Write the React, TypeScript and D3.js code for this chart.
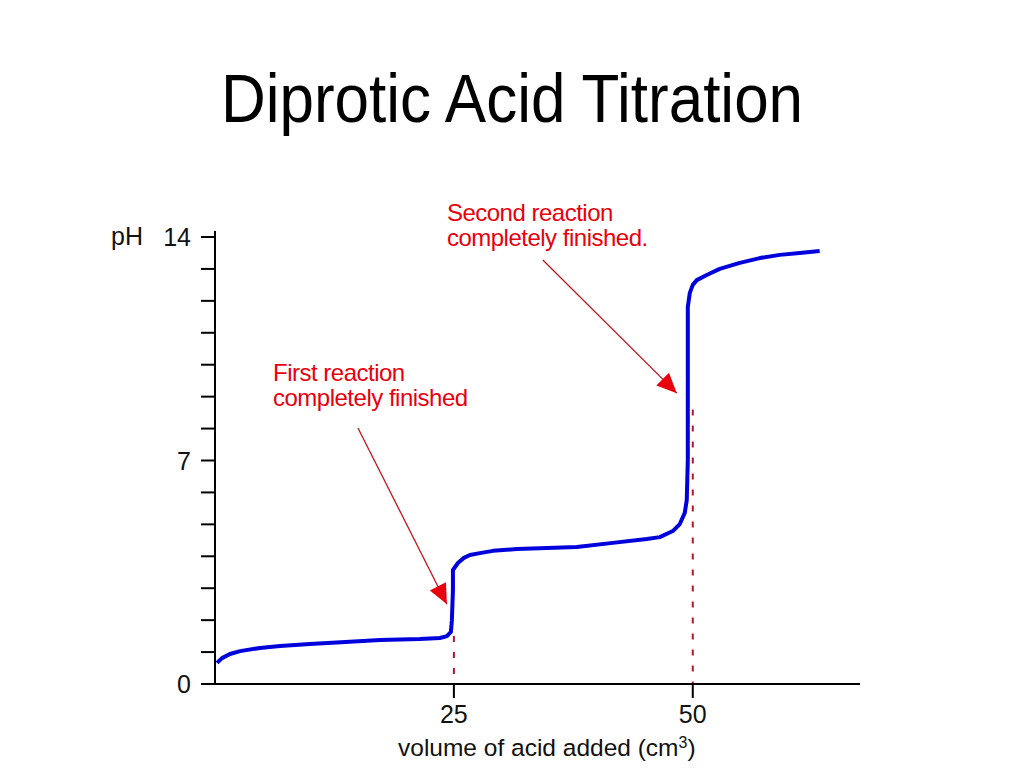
import React from "react";
import * as d3 from "d3";

const volumes = [0.21, 0.73, 1.57, 2.62, 4.71, 6.8, 9.94, 14.12, 17.26, 21.44, 23.54, 24.27, 24.69, 24.79, 24.9, 24.9, 25.42, 26.05, 26.67, 27.72, 29.08, 31.59, 37.87, 41.63, 45.19, 46.55, 47.91, 48.64, 49.16, 49.37, 49.48, 49.48, 49.48, 49.48, 49.69, 50.0, 50.42, 51.46, 52.82, 54.92, 57.01, 59.1, 61.19, 63.28];
const phValues = [0.66, 0.81, 0.94, 1.03, 1.13, 1.19, 1.25, 1.32, 1.38, 1.41, 1.44, 1.5, 1.63, 2.0, 2.94, 3.57, 3.79, 3.95, 4.04, 4.1, 4.17, 4.23, 4.29, 4.42, 4.54, 4.6, 4.79, 5.01, 5.36, 5.76, 7.02, 8.89, 10.77, 11.81, 12.25, 12.5, 12.65, 12.81, 13.0, 13.19, 13.34, 13.44, 13.5, 13.56];

const yTicks = d3.range(0, 15);
const yTickLabels = ["0", "7", "14"];
const xTickValues = [25, 50];
const equivalencePoints = [25, 50];
const equivalenceTops = [1.5, 8.6];

const annotationLines = [
  ["First reaction", "completely finished"],
  ["Second reaction", "completely finished."],
];
const annotationTextPos = [
  [6.07, 9.5],
  [24.27, 14.5],
];
const arrowStart = [
  [14.96, 8.02],
  [34.31, 13.28],
];
const arrowTip = [
  [24.27, 2.5],
  [48.33, 9.11],
];

const title = "Diprotic Acid Titration";
const xTitle = "volume of acid added (cm";
const yTitle = "pH";

export default function App() {
  const x = d3.scaleLinear().domain([0, 67.5]).range([215, 860]);
  const y = d3.scaleLinear().domain([0, 14]).range([684, 237]);
  const pts: [number, number][] = volumes.map((v, i) => [v, phValues[i]]);
  const line = d3
    .line<[number, number]>()
    .x((d) => x(d[0]))
    .y((d) => y(d[1]))
    .curve(d3.curveLinear);

  const red = "#e8000c";
  const arrowRed = "#c2141c";
  const font = "'Liberation Sans', Arial, sans-serif";

  const arrowHead = (sx: number, sy: number, tx: number, ty: number) => {
    const dx = tx - sx;
    const dy = ty - sy;
    const len = Math.hypot(dx, dy);
    const ux = dx / len;
    const uy = dy / len;
    const L = 20;
    const W = 9;
    const bx = tx - ux * L;
    const by = ty - uy * L;
    const px = -uy;
    const py = ux;
    return `M${tx},${ty} L${bx + px * W},${by + py * W} L${bx - px * W},${by - py * W} Z`;
  };

  return (
    <svg
      width={1024}
      height={768}
      style={{ position: "absolute", left: 0, top: 0, background: "#fff" }}
    >
      <text
        x={512}
        y={122}
        textAnchor="middle"
        fontFamily={font}
        fontSize={62}
        fill="#000"
        transform="translate(0,122) scale(1,1.1) translate(0,-122)"
      >
        {title}
      </text>

      {/* equivalence dashed lines */}
      {equivalencePoints.map((v, i) => (
        <line
          key={"eq" + i}
          x1={x(v)}
          x2={x(v)}
          y1={y(equivalenceTops[i])}
          y2={y(0)}
          stroke="#b8142c"
          strokeWidth={2}
          strokeDasharray="6,10"
        />
      ))}

      {/* titration curve */}
      <path d={line(pts) || ""} fill="none" stroke="#0000dc" strokeWidth={4} strokeLinejoin="round" />

      {/* axes */}
      <line x1={x(0)} x2={x(0)} y1={y(14) - 6} y2={y(0)} stroke="#000" strokeWidth={2} />
      <line x1={x(0)} x2={x(67.5)} y1={y(0)} y2={y(0)} stroke="#000" strokeWidth={2} />
      {yTicks.map((t) => (
        <line key={"yt" + t} x1={x(0) - 14} x2={x(0)} y1={y(t)} y2={y(t)} stroke="#000" strokeWidth={2} />
      ))}
      {xTickValues.map((t) => (
        <line key={"xt" + t} x1={x(t)} x2={x(t)} y1={y(0)} y2={y(0) + 14} stroke="#000" strokeWidth={2} />
      ))}
      {yTickLabels.map((t) => (
        <text
          key={"yl" + t}
          x={191}
          y={y(+t) + 9}
          textAnchor="end"
          fontFamily={font}
          fontSize={25}
          fill="#111"
        >
          {t}
        </text>
      ))}
      <text x={111} y={245} fontFamily={font} fontSize={25} fill="#111">
        {yTitle}
      </text>
      {xTickValues.map((t) => (
        <text
          key={"xl" + t}
          x={x(t)}
          y={723}
          textAnchor="middle"
          fontFamily={font}
          fontSize={25}
          fill="#111"
        >
          {t}
        </text>
      ))}
      <text x={398} y={756} fontFamily={font} fontSize={24.5} fill="#111">
        {xTitle}
        <tspan dy={-8} fontSize={16}>3</tspan>
        <tspan dy={8}>)</tspan>
      </text>

      {/* annotations */}
      {annotationLines.map((lines, i) => (
        <text
          key={"an" + i}
          x={x(annotationTextPos[i][0])}
          y={y(annotationTextPos[i][1])}
          fontFamily={font}
          fontSize={24}
          fill={red}
          letterSpacing={-0.5}
        >
          {lines.map((l, j) => (
            <tspan key={j} x={x(annotationTextPos[i][0])} dy={j === 0 ? 0 : 25}>
              {l}
            </tspan>
          ))}
        </text>
      ))}
      {arrowStart.map((s, i) => {
        const sx = x(s[0]);
        const sy = y(s[1]);
        const tx = x(arrowTip[i][0]);
        const ty = y(arrowTip[i][1]);
        return (
          <g key={"ar" + i}>
            <line x1={sx} y1={sy} x2={tx} y2={ty} stroke={arrowRed} strokeWidth={1.3} />
            <path d={arrowHead(sx, sy, tx, ty)} fill={red} />
          </g>
        );
      })}
    </svg>
  );
}
